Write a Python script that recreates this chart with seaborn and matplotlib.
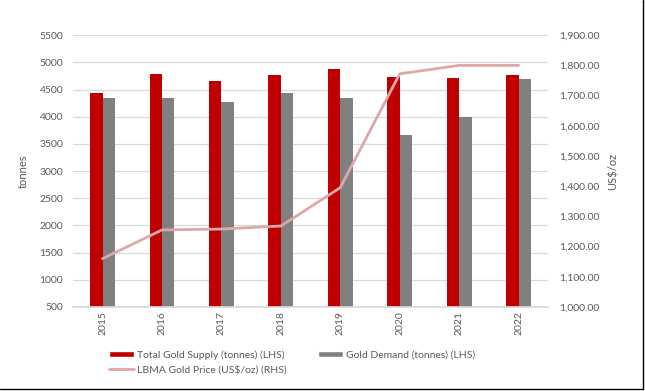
import numpy as np
import pandas as pd
import matplotlib
matplotlib.use("Agg")
import matplotlib.pyplot as plt
import seaborn as sns
from matplotlib.ticker import FuncFormatter
from matplotlib.lines import Line2D
from matplotlib.patches import Patch

# chart values
years = ['2015', '2016', '2017', '2018', '2019', '2020', '2021', '2022']
supply = [4440, 4790, 4660, 4770, 4880, 4730, 4710, 4770]
demand = [4350, 4350, 4270, 4440, 4350, 3670, 4000, 4690]
price = [1160, 1255, 1258, 1268, 1395, 1772, 1800, 1800]

supply_label = 'Total Gold Supply (tonnes) (LHS)'
demand_label = 'Gold Demand (tonnes) (LHS)'
price_label = 'LBMA Gold Price (US$/oz) (RHS)'

red = '#C00000'
grey = '#808080'
pink = '#DDA8A8'
text_col = '#595959'
grid_col = '#D9D9D9'

bars = pd.DataFrame({
    'year': years * 2,
    'tonnes': supply + demand,
    'series': [supply_label] * len(years) + [demand_label] * len(years),
})

sns.set_theme(style="white")
plt.rcParams['font.family'] = ['Lato', 'DejaVu Sans']

fig = plt.figure(figsize=(6.45, 3.91), dpi=100)
ax = fig.add_axes([0.113, 0.215, 0.737, 0.695])

sns.barplot(data=bars, x='year', y='tonnes', hue='series',
            palette=[red, grey], width=0.42, saturation=1, linewidth=0,
            legend=False, ax=ax)

ax.set_ylim(500, 5500)
ax.set_yticks(np.arange(500, 5501, 500))
ax.set_xlim(-0.5, len(years) - 0.5)
ax.grid(axis='y', color=grid_col, linewidth=0.9)
ax.set_axisbelow(True)
for s in ax.spines.values():
    s.set_visible(False)
ax.spines['bottom'].set_visible(True)
ax.spines['bottom'].set_color(grid_col)
ax.tick_params(axis='both', length=0, labelsize=7.5, labelcolor=text_col)
ax.tick_params(axis='y', pad=7)
ax.tick_params(axis='x', pad=3)
plt.setp(ax.get_xticklabels(), rotation=90)
ax.set_xlabel('')
ax.set_ylabel('tonnes', fontsize=8, color=text_col, labelpad=8)

ax2 = ax.twinx()
sns.lineplot(x=np.arange(len(years)), y=price, color=pink, linewidth=2.0,
             ax=ax2)
ax2.set_ylim(1000, 1900)
ax2.set_yticks(np.arange(1000, 1901, 100))
ax2.yaxis.set_major_formatter(FuncFormatter(lambda v, p: f'{v:,.2f}'))
for s in ax2.spines.values():
    s.set_visible(False)
ax2.tick_params(axis='y', length=0, labelsize=7.5, labelcolor=text_col, pad=8)
ax2.set_ylabel('US$/oz', fontsize=8, color=text_col, labelpad=6)
ax2.grid(False)

# legend is filled column by column: supply + price in the first column
handles = [
    Patch(facecolor=red, label=supply_label),
    Line2D([0], [0], color=pink, linewidth=2.0, label=price_label),
    Patch(facecolor=grey, label=demand_label),
]
fig.legend(handles=handles, loc='upper left', bbox_to_anchor=(0.163, 0.115),
           ncol=2, frameon=False, fontsize=7.5, labelcolor=text_col,
           handlelength=2.4, handleheight=0.5, handletextpad=0.3,
           columnspacing=3.0, labelspacing=0.5, borderaxespad=0)

# thin frame on the right and bottom edges, as in the exported image
fig.add_artist(Line2D([0.9965, 0.9965], [0.005, 1.0], color='black',
                      linewidth=1.0, transform=fig.transFigure))
fig.add_artist(Line2D([0, 0.9965], [0.005, 0.005], color='black',
                      linewidth=1.0, transform=fig.transFigure))

fig.savefig('out.png', dpi=100)
